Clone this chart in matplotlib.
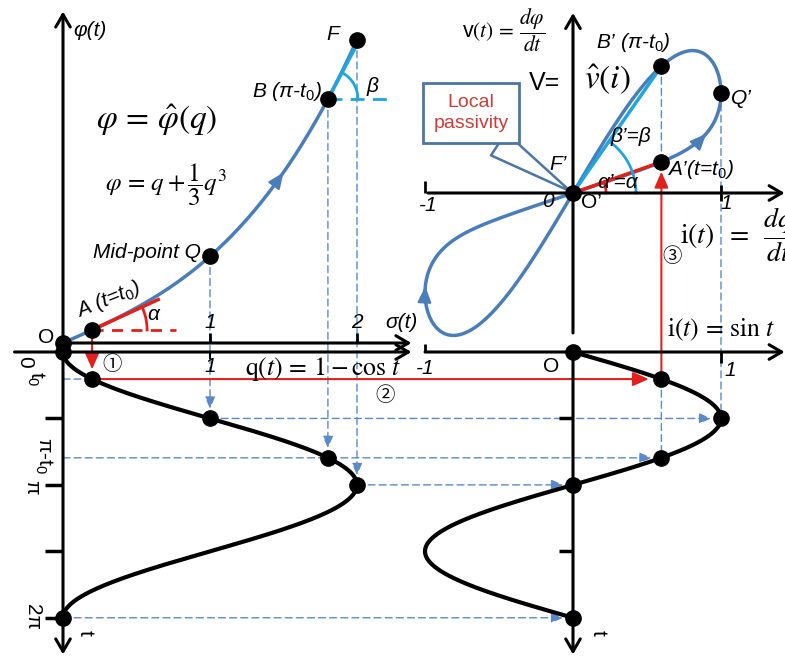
import numpy as np
import matplotlib
matplotlib.use("Agg")
import matplotlib.pyplot as plt
from matplotlib.patches import ConnectionPatch

plt.rcParams['font.family'] = ['Liberation Sans', 'DejaVu Sans']
plt.rcParams['mathtext.fontset'] = 'custom'
plt.rcParams['mathtext.rm'] = 'Liberation Sans'
plt.rcParams['mathtext.it'] = 'Liberation Sans:italic'
plt.rcParams['mathtext.bf'] = 'Liberation Sans:bold'

# ---------------- values ----------------
t0 = 0.64                                   # time of point A
t_key = [0.0, t0, np.pi / 2, np.pi - t0, np.pi, 2 * np.pi]
t_ticks_left = [np.pi / 2, np.pi, 3 * np.pi / 2, 2 * np.pi]
t_ticks_right = [np.pi / 2, 3 * np.pi / 2]
q_ticks = [1, 2]
i_ticks = [-1, 1]
t_curve = np.linspace(0, 2 * np.pi, 800)


def charge(t):            # q(t) = 1 - cos t
    return 1 - np.cos(t)


def current(t):           # i(t) = sin t
    return np.sin(t)


def flux(q):              # phi = q + q^3 / 3
    return q + q ** 3 / 3


def voltage(t):           # v = dphi/dt = (1 + q^2) i
    return (1 + charge(t) ** 2) * current(t)


# ---------------- colours ----------------
BLUE = '#4a7ebb'
CYAN = '#1fa5df'
RED = '#e3211c'
DASH = '#5b8ac9'
BOXRED = '#d23b36'

W, H = 785, 660
fig = plt.figure(figsize=(W / 100, H / 100), dpi=100)


def panel(ox, oy, sx, sy, down=False):
    """Full-figure transparent axes whose origin sits at pixel (ox, oy)."""
    ax = fig.add_axes([0, 0, 1, 1])
    ax.set_xlim(-ox / sx, (W - ox) / sx)
    if down:
        ax.set_ylim((H - oy) / sy, -oy / sy)
    else:
        ax.set_ylim((oy - H) / sy, oy / sy)
    ax.axis('off')
    ax.sx, ax.sy = sx, sy
    return ax


ax_phi = panel(63, 343, 147, 65)            # phi vs q
ax_qt = panel(63, 352, 147, 42.3, True)     # q(t), t downward
ax_vi = panel(573, 193, 148, 50)            # v vs i
ax_it = panel(573, 352, 148, 42.3, True)    # i(t), t downward


def axis_arrow(ax, p0, p1):
    ax.annotate('', xy=p1, xytext=p0,
                arrowprops=dict(arrowstyle='->,head_length=0.6,head_width=0.35',
                                lw=2.2, color='k', mutation_scale=15,
                                shrinkA=0, shrinkB=0))


def curve_arrow(ax, p0, p1, color=BLUE):
    ax.annotate('', xy=p1, xytext=p0,
                arrowprops=dict(arrowstyle='-|>,head_length=0.7,head_width=0.3',
                                lw=1.5, color=color, mutation_scale=14,
                                shrinkA=0, shrinkB=0))


def link(axA, pA, axB, pB, color=DASH, lw=1.0, ls=(0, (5, 3)), arrow=True,
         shrinkB=0, scale=9):
    style = '-|>,head_length=0.8,head_width=0.35' if arrow else '-'
    con = ConnectionPatch(xyA=pA, coordsA=axA.transData, xyB=pB,
                          coordsB=axB.transData, arrowstyle=style,
                          mutation_scale=scale, color=color, lw=lw,
                          linestyle=ls, shrinkA=0, shrinkB=shrinkB,
                          zorder=-1)
    fig.add_artist(con)


def arc(ax, center, r, a0, a1, color, lw=2):
    a = np.linspace(np.radians(a0), np.radians(a1), 60)
    ax.plot(center[0] + r * np.cos(a) / ax.sx,
            center[1] + r * np.sin(a) / ax.sy, color=color, lw=lw)


def pix_angle(ax, slope):
    return np.degrees(np.arctan(slope * ax.sy / ax.sx))


def label(ax, s, xy, off=(0, 0), ha='center', va='center', **kw):
    ax.annotate(s, xy=xy, xytext=off, textcoords='offset pixels',
                ha=ha, va=va, **kw)


DOT = dict(ls='none', marker='o', ms=11, color='k', zorder=6)

# ---------------- phi(q) panel ----------------
qA, qB = charge(t0), charge(np.pi - t0)
q_line = np.linspace(0, 2, 300)
ax_phi.plot(q_line, flux(q_line), color=BLUE, lw=2.5)
axis_arrow(ax_phi, (0, 0), (0, 5.1))
axis_arrow(ax_phi, (0, 0), (2.37, 0))
ax_phi.plot(q_ticks, [0, 0], ls='none', marker=2, ms=7, mew=2, color='k')
curve_arrow(ax_phi, (1.45, flux(1.45)), (1.5, flux(1.5)))
q_pts = [0, qA, 1, qB, 2]
ax_phi.plot(q_pts, flux(np.array(q_pts)), **DOT)

mA, mB = 1 + qA ** 2, 1 + qB ** 2
A = (qA, flux(qA))
B = (qB, flux(qB))
ax_phi.plot([qA, qA + 0.45], [A[1], A[1] + 0.45 * mA], color=RED, lw=2.5)
ax_phi.plot([qA, qA + 0.57], [A[1], A[1]], color=RED, lw=2, ls=(0, (4, 3)))
arc(ax_phi, A, 55, 0, pix_angle(ax_phi, mA), RED)
ax_phi.plot([qB, qB + 0.22], [B[1], B[1] + 0.22 * mB], color=CYAN, lw=2.5)
ax_phi.plot([qB, qB + 0.4], [B[1], B[1]], color=CYAN, lw=2, ls=(0, (5, 3)))
arc(ax_phi, B, 30, 0, pix_angle(ax_phi, mB), CYAN)

IT = dict(style='italic', fontsize=15)
label(ax_phi, 'φ(t)', (0, 4.9), (10, -6), ha='left', **IT)
label(ax_phi, 'O', (0, 0), (-17, 5), fontsize=15)
label(ax_phi, r'A (t=$t_0$)', A, (16, 30), rotation=22, **IT)
label(ax_phi, r'$\alpha$', A, (62, 15), fontsize=15)
label(ax_phi, 'Mid-point Q', (1, flux(1)), (-9, 4), ha='right', **IT)
label(ax_phi, r'B (π-$t_0$)', B, (-6, 8), ha='right', **IT)
label(ax_phi, 'F', (2, flux(2)), (-24, 5), **IT)
label(ax_phi, r'$\beta$', B, (45, 13), fontsize=15)
for q in q_ticks:
    label(ax_phi, str(q), (q, 0), (0, 20), **IT)
label(ax_phi, 'σ(t)', (2, 0), (28, 20), ha='left', **IT)
label(ax_phi, r'$\varphi\,=\,\hat{\varphi}(q)$', (0.64, 3.43), fontsize=24,
      math_fontfamily='stix')
label(ax_phi, r'$\varphi\,=\,q+\dfrac{1}{3}q^3$', (0.7, 2.43), fontsize=18,
      math_fontfamily='stix')

# ---------------- q(t) panel ----------------
ax_qt.plot(charge(t_curve), t_curve, color='k', lw=3)
axis_arrow(ax_qt, (-0.33, 0), (2.37, 0))
axis_arrow(ax_qt, (0, -0.2), (0, 7.15))
ax_qt.plot([0] * len(t_ticks_left), t_ticks_left, ls='none', marker=0, ms=13,
           mew=2.5, color='k')
ax_qt.plot([1], [0], ls='none', marker=3, ms=5, mew=1.5, color='k')
tk = np.array(t_key)
ax_qt.plot(charge(tk), tk, **DOT)
ROT = dict(rotation=-90, fontsize=15)
label(ax_qt, '0', (0, 0), (-38, -10), **ROT)
label(ax_qt, r'$\mathrm{t}_0$', (0, t0), (-27, 0), **ROT)
label(ax_qt, r'π-$\mathrm{t}_0$', (0, np.pi - t0), (-19, 2), **ROT)
label(ax_qt, 'π', (0, np.pi), (-31, -2), **ROT)
label(ax_qt, '2π', (0, 2 * np.pi), (-31, 1), **ROT)
label(ax_qt, 't', (0, 2 * np.pi), (22, -15), **ROT)
label(ax_qt, '1', (1, 0), (0, -15), **IT)
label(ax_qt, r'$\mathrm{q}(t)\,=\,1-\cos\,t$', (1.77, 0.4), fontsize=18.5,
      math_fontfamily='stix')
CIRC = dict(fontsize=14, family=['Noto Sans CJK JP', 'DejaVu Sans'])
label(ax_qt, '①', (qA, 0.3), (20, 0), **CIRC)
label(ax_qt, '②', (2.19, 1.02), **CIRC)

# ---------------- v(i) panel ----------------
ax_vi.plot(current(t_curve), voltage(t_curve), color=BLUE, lw=2.5)
axis_arrow(ax_vi, (0, -2.8), (0, 3.6))
axis_arrow(ax_vi, (-0.98, 0), (1.43, 0))
ax_vi.plot([-1], [0], ls='none', marker=2, ms=9, mew=2, color='k')
ax_vi.plot([1], [0], ls='none', marker='|', ms=12, mew=2, color='k')
tA, tB = t0, np.pi - t0
Ap = (current(tA), voltage(tA))
Bp = (current(tB), voltage(tB))
Qp = (current(np.pi / 2), voltage(np.pi / 2))
ax_vi.plot([0, Ap[0]], [0, Ap[1]], color=RED, lw=2.5)
ax_vi.plot([0, Bp[0]], [0, Bp[1]], color=CYAN, lw=2.5)
arc(ax_vi, (0, 0), 63, 0, pix_angle(ax_vi, Bp[1] / Bp[0]), CYAN)
arc(ax_vi, (0, 0), 33, 0, pix_angle(ax_vi, Ap[1] / Ap[0]), RED)
curve_arrow(ax_vi, (current(1.08), voltage(1.08)), (current(1.12), voltage(1.12)))
curve_arrow(ax_vi, (current(4.72), voltage(4.72)), (current(4.78), voltage(4.78)))
ax_vi.plot([0, Ap[0], Bp[0], Qp[0]], [0, Ap[1], Bp[1], Qp[1]], **DOT)

label(ax_vi, 'F’', (0, 0), (-15, 28), **IT)
label(ax_vi, '0', (0, 0), (-25, -9), **IT)
label(ax_vi, 'O’', (0, 0), (8, -10), ha='left', fontsize=15)
label(ax_vi, '-1', (-1, 0), (3, -13), **IT)
label(ax_vi, '1', (1, 0), (5, -11), **IT)
label(ax_vi, r'A’(t=$t_0$)', Ap, (6, -8), ha='left', **IT)
label(ax_vi, r'B’ (π-$t_0$)', Bp, (-28, 24), **IT)
label(ax_vi, 'Q’', Qp, (10, -5), ha='left', **IT)
label(ax_vi, 'β’=β', (0, 0), (58, 56), **IT)
label(ax_vi, 'α’=α', (0, 0), (45, 10), **IT)
label(ax_vi, r'v$(t)\,=\,\dfrac{d\varphi}{dt}$', (0, 0), (-69, 163),
      fontsize=15.5, math_fontfamily='stix')
label(ax_vi, 'V=', (0, 0), (-28, 110), fontsize=18)
label(ax_vi, r'$\hat{v}(i)$', (0, 0), (34, 113), fontsize=24,
      math_fontfamily='stix')
label(ax_vi, r'$\mathrm{i}(t)\;\;=\;\;\dfrac{dq}{dt}$', (0, 0), (107, -42),
      ha='left', fontsize=20, math_fontfamily='stix')
label(ax_vi, '③', (0.67, -1.28), **CIRC)
ax_vi.annotate('Local\npassivity', xy=(0, 0), xytext=(-0.69, 1.6),
               textcoords='data', ha='center', va='center', fontsize=14,
               color=BOXRED, linespacing=1.35,
               bbox=dict(boxstyle='square,pad=0.55', fc='white', ec='#4a76a8',
                         lw=2),
               arrowprops=dict(arrowstyle='wedge,tail_width=1.4,shrink_factor=0.5',
                               relpos=(0.63, 0.0), fc='white', ec='#4a76a8',
                               lw=1.8, mutation_scale=14, shrinkA=0,
                               shrinkB=2))

# ---------------- i(t) panel ----------------
ax_it.plot(current(t_curve), t_curve, color='k', lw=3)
axis_arrow(ax_it, (-1.0, 0), (1.43, 0))
axis_arrow(ax_it, (0, 0), (0, 7.15))
ax_it.plot([0] * len(t_ticks_right), t_ticks_right, ls='none', marker=0,
           ms=10, mew=2.5, color='k')
ax_it.plot([-1], [0], ls='none', marker=2, ms=6, mew=2, color='k')
ax_it.plot([1], [0], ls='none', marker=3, ms=8, mew=2, color='k')
ax_it.plot(current(tk), tk, **DOT)
label(ax_it, 'O', (0, 0), (-22, -14), fontsize=15)
label(ax_it, '-1', (-1, 0), (0, -16), **IT)
label(ax_it, '1', (1, 0), (9, -18), **IT)
label(ax_it, r'$\mathrm{i}(t)\,=\,\sin\,t$', (1.0, -0.52), fontsize=18.5,
      math_fontfamily='stix')
label(ax_it, 't', (0, 2 * np.pi), (25, -15), **ROT)

# ---------------- projection lines ----------------
link(ax_phi, (1, flux(1)), ax_qt, (1, np.pi / 2), shrinkB=7)
link(ax_phi, B, ax_qt, (qB, np.pi - t0), shrinkB=7)
link(ax_phi, (2, flux(2)), ax_qt, (2, np.pi), shrinkB=7)
link(ax_qt, (1, np.pi / 2), ax_it, (1, np.pi / 2), shrinkB=7)
link(ax_qt, (0, np.pi - t0), ax_it, (current(np.pi - t0), np.pi - t0), shrinkB=7)
link(ax_qt, (2, np.pi), ax_it, (0, np.pi), shrinkB=7)
link(ax_qt, (0, 2 * np.pi), ax_it, (0, 2 * np.pi), shrinkB=7)
link(ax_qt, (0, t0), ax_qt, (qA, t0), arrow=False)
link(ax_vi, Bp, ax_vi, (Bp[0], Ap[1]), arrow=False)
link(ax_it, (current(t0), t0), ax_it, (current(np.pi - t0), np.pi - t0), arrow=False)
link(ax_vi, Qp, ax_it, (1, np.pi / 2), arrow=False)

link(ax_phi, A, ax_qt, (qA, t0), color=RED, lw=1.5, ls='-', shrinkB=7, scale=12)
link(ax_qt, (qA, t0), ax_it, (current(t0), t0), color=RED, lw=1.5, ls='-',
     shrinkB=9, scale=12)
link(ax_it, (current(t0), t0), ax_vi, Ap, color=RED, lw=1.5, ls='-',
     shrinkB=7, scale=12)

fig.savefig('out.png', dpi=100)
